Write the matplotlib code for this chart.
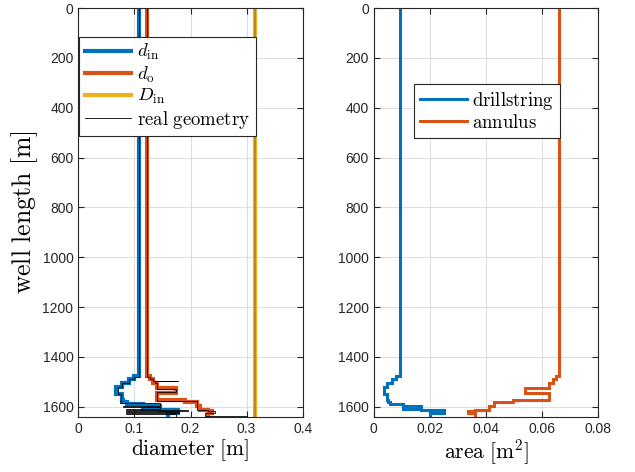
import numpy as np
import matplotlib
matplotlib.use('Agg')
import matplotlib.pyplot as plt

# fonts: sans ticks (like matlab), computer modern for labels via mathtext
plt.rcParams['font.family'] = ['Liberation Sans', 'DejaVu Sans']
plt.rcParams['mathtext.fontset'] = 'cm'

# Data
## model discretisation (thick lines), depth = top of each section [m]
model_top = [0, 1478, 1490, 1505, 1520, 1525, 1543, 1548, 1572, 1580, 1588, 1596, 1602, 1608, 1614, 1618, 1624, 1626]
model_din = [0.108, 0.100, 0.091, 0.078, 0.068, 0.068, 0.068, 0.078, 0.080, 0.086, 0.115, 0.146, 0.115, 0.146, 0.178, 0.178, 0.160, 0.160]
model_do = [0.123, 0.128, 0.134, 0.140, 0.140, 0.175, 0.140, 0.140, 0.190, 0.211, 0.211, 0.217, 0.217, 0.217, 0.231, 0.238, 0.238, 0.231]
D_in = 0.315
well_end = 1640

## real geometry (thin black lines)
real_top = [0, 1480, 1490, 1495, 1496, 1505, 1520, 1527, 1540, 1548, 1576, 1585, 1598, 1602, 1608, 1612, 1617, 1622, 1627, 1631, 1637]
real_din = [0.108, 0.100, 0.090, 0.090, 0.090, 0.078, 0.070, 0.070, 0.070, 0.076, 0.074, 0.145, 0.080, 0.145, 0.085, 0.195, 0.085, 0.180, 0.085, 0.175, 0.175]
real_do = [0.123, 0.128, 0.134, 0.178, 0.136, 0.140, 0.140, 0.175, 0.140, 0.140, 0.211, 0.211, 0.211, 0.211, 0.211, 0.232, 0.244, 0.244, 0.226, 0.226, 0.300]

# areas from the model diameters
model_edges = np.array(model_top + [well_end])
A_ds = np.pi / 4 * np.array(model_din) ** 2
A_an = np.pi / 4 * (D_in ** 2 - np.array(model_do) ** 2)
real_edges = np.array(real_top + [well_end])

blue = '#0072BD'
orange = '#D95319'
yellow = '#EDB120'

def style_axes(ax):
    ax.grid(True, color='#dedede', linewidth=0.8)
    ax.set_axisbelow(True)
    ax.tick_params(direction='in', top=True, right=True, length=4, labelsize=10, colors='#262626')
    for s in ax.spines.values():
        s.set_color('#262626')
        s.set_linewidth(0.8)

fig = plt.figure(figsize=(6.35, 4.72), dpi=100)
ax1 = fig.add_axes([0.1233, 0.1172, 0.3534, 0.8657])
ax2 = fig.add_axes([0.5887, 0.1172, 0.3535, 0.8657])

### left: diameters
h1 = ax1.stairs(model_din, model_edges, orientation='horizontal', baseline=None, color=blue, linewidth=3)
h2 = ax1.stairs(model_do, model_edges, orientation='horizontal', baseline=None, color=orange, linewidth=3)
h3, = ax1.plot([D_in, D_in], [0, well_end], color=yellow, linewidth=3)
h4 = ax1.stairs(real_din, real_edges, orientation='horizontal', baseline=None, color='black', linewidth=0.6)
ax1.stairs(real_do, real_edges, orientation='horizontal', baseline=None, color='black', linewidth=0.6)
ax1.plot([D_in, D_in], [0, well_end], color='black', linewidth=0.3)

ax1.set_xlim(0, 0.4)
ax1.set_ylim(well_end, 0)
ax1.set_xticks([0, 0.1, 0.2, 0.3, 0.4])
ax1.set_xticklabels(['0', '0.1', '0.2', '0.3', '0.4'])
ax1.set_yticks(np.arange(0, 1601, 200))
style_axes(ax1)
ax1.set_xlabel(r'$\mathrm{diameter\ [m]}$', fontsize=15.5, labelpad=1)
ax1.set_ylabel(r'$\mathrm{well\ length\ [m]}$', fontsize=18.5, labelpad=2)
leg1 = ax1.legend([h1, h2, h3, h4],
                  [r'$d_\mathrm{in}$', r'$d_\mathrm{o}$', r'$D_\mathrm{in}$', r'$\mathrm{real\ geometry}$'],
                  loc='upper left', bbox_to_anchor=(0.003, 0.93), borderaxespad=0,
                  fontsize=13.5, handlelength=2.5, handletextpad=0.3, labelspacing=0.12,
                  borderpad=0.3, fancybox=False, framealpha=1, edgecolor='#262626')
leg1.get_frame().set_linewidth(0.8)

### right: areas
g1 = ax2.stairs(A_ds, model_edges, orientation='horizontal', baseline=None, color=blue, linewidth=2.2)
g2 = ax2.stairs(A_an, model_edges, orientation='horizontal', baseline=None, color=orange, linewidth=2.2)
ax2.set_xlim(0, 0.08)
ax2.set_ylim(well_end, 0)
ax2.set_xticks([0, 0.02, 0.04, 0.06, 0.08])
ax2.set_xticklabels(['0', '0.02', '0.04', '0.06', '0.08'])
ax2.set_yticks(np.arange(0, 1601, 200))
style_axes(ax2)
ax2.set_xlabel(r'$\mathrm{area\ [m^2]}$', fontsize=15.5, labelpad=1)
leg2 = ax2.legend([g1, g2], [r'$\mathrm{drillstring}$', r'$\mathrm{annulus}$'],
                  loc='upper left', bbox_to_anchor=(0.179, 0.814), borderaxespad=0,
                  fontsize=13.5, handlelength=2.5, handletextpad=0.3, labelspacing=0.12,
                  borderpad=0.3, fancybox=False, framealpha=1, edgecolor='#262626')
leg2.get_frame().set_linewidth(0.8)

fig.savefig('out.png', dpi=100)
